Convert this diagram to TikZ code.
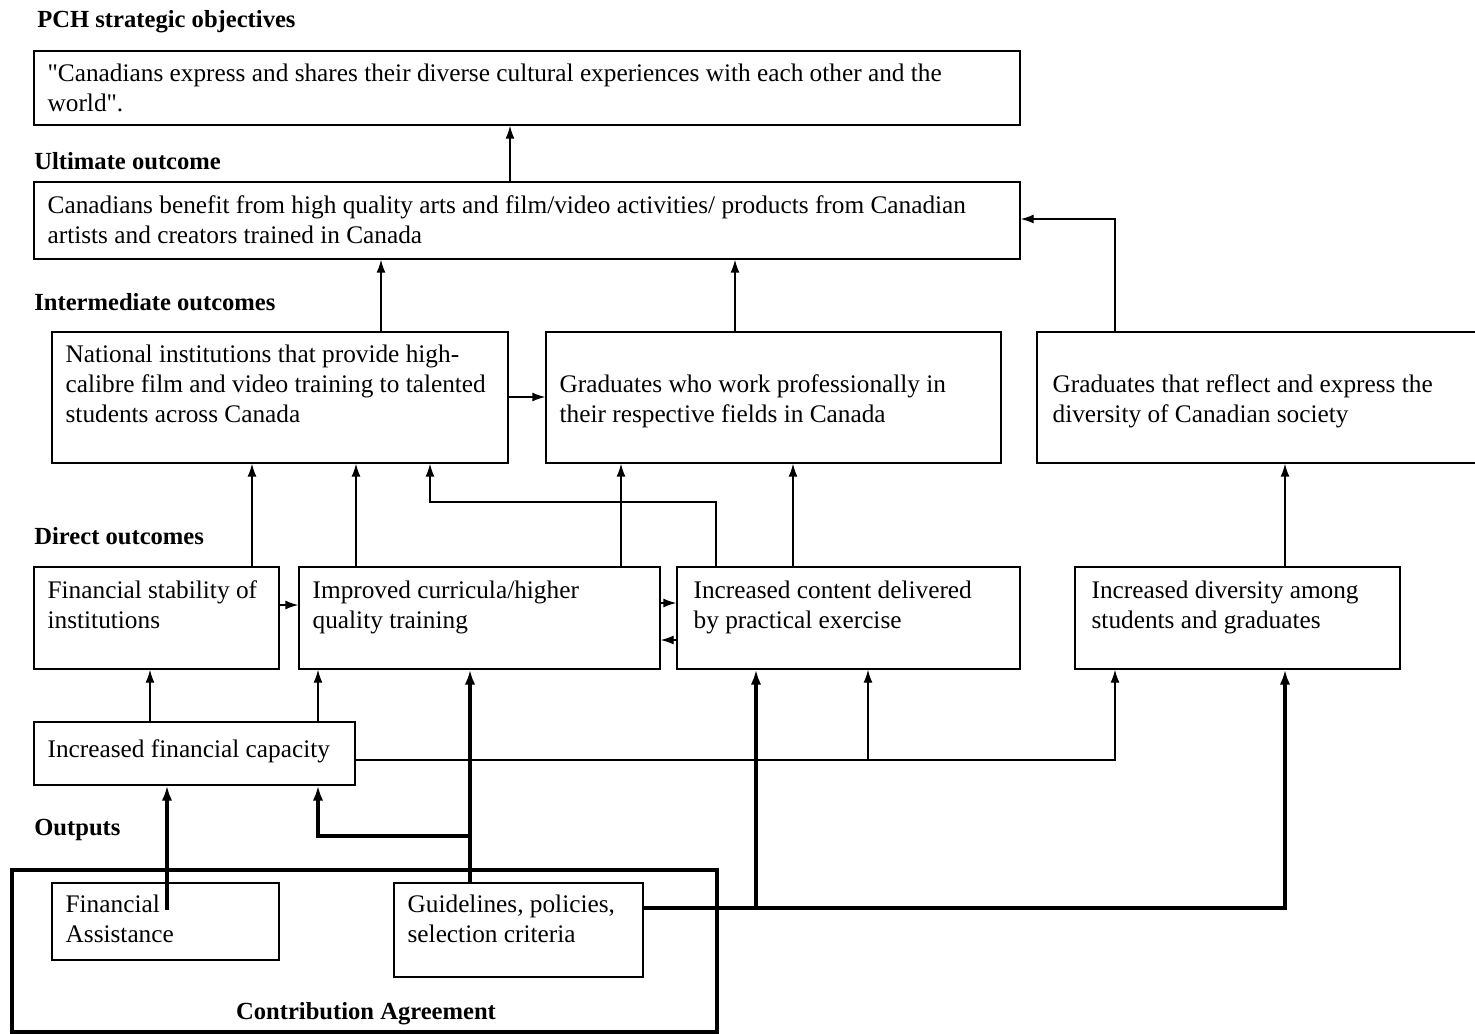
\documentclass[tikz,border=0pt]{standalone}
\usepackage{fontspec}
\setmainfont{Liberation Serif}[Ligatures=TeXOff]
\usetikzlibrary{arrows.meta,fit}
\tikzstyle{logicModel} = [x = 0.02cm, y = -0.02cm]
\tikzstyle{boxStyle} = [draw, line width=0.8pt, inner sep=0pt]
\tikzstyle{boxText} = [font=\fontsize{14.4}{17}\selectfont, align=left, anchor=north west, inner sep=0pt]
\tikzstyle{headText} = [font=\fontsize{14}{17}\selectfont\bfseries, anchor=base west, inner sep=0pt]
\tikzstyle{link} = [line width=0.8pt, -{Latex[length=2.6mm,width=1.8mm]}]
\tikzstyle{thickLink} = [line width=2.2pt, -{Latex[length=3mm,width=2.1mm]}]
\tikzstyle{agreementStyle} = [draw, line width=2.8pt, inner sep=0pt]
% box from corner (#2,#3) to corner (#4,#5), text shifted by (#6,#7)
\newcommand{\logicBox}[8]{
  \node [boxStyle, fit={(#2,#3) (#4,#5)}] (#1) {};
  \node [boxText] (#1Text) at ([shift={(#6,#7)}]#1.north west) {\strut#8};
}

\begin{document}
\begin{tikzpicture}[logicModel]
  \useasboundingbox [fill=white] (0,0) rectangle (1475,1034);

  % headings
  \node [headText] (pchHead) at (37,28) {PCH strategic objectives};
  \node [headText] (ultimateHead) at (34,170) {Ultimate outcome};
  \node [headText] (intermediateHead) at (34,310) {Intermediate outcomes};
  \node [headText] (directHead) at (34,544) {Direct outcomes};
  \node [headText] (outputsHead) at (34,835) {Outputs};

  % boxes
  \logicBox{objective}{34}{51}{1020}{125}{14}{10}{"Canadians express and shares their diverse cultural experiences with each other and the\\world".}
  \logicBox{ultimate}{34}{182}{1020}{259}{14}{11}{Canadians benefit from high quality arts and film/video activities/ products from Canadian\\artists and creators trained in Canada}
  \logicBox{national}{52}{332}{508}{463}{14}{10}{National institutions that provide high-\\calibre film and video training to talented\\students across Canada}
  \logicBox{graduatesWork}{546}{332}{1001}{463}{14}{40}{Graduates who work professionally in\\their respective fields in Canada}
  \logicBox{graduatesDiv}{1037}{332}{1480}{463}{16}{40}{Graduates that reflect and express the\\diversity of Canadian society}
  \logicBox{stability}{34}{567}{279}{669}{14}{11}{Financial stability of\\institutions}
  \logicBox{curricula}{299}{567}{660}{669}{14}{11}{Improved curricula/higher\\quality training}
  \logicBox{content}{677}{567}{1020}{669}{17}{11}{Increased content delivered\\by practical exercise}
  \logicBox{diversity}{1075}{567}{1400}{669}{17}{11}{Increased diversity among\\students and graduates}
  \logicBox{capacity}{34}{722}{355}{785}{14}{15}{Increased financial capacity}
  \node [agreementStyle, fit={(12,870) (717,1032)}] (agreement) {};
  \node [headText, anchor=base] (agreementText) at (366,1019) {Contribution Agreement};
  \logicBox{assistance}{52}{883}{279}{960}{14}{9}{Financial\\Assistance}
  \logicBox{guidelines}{394}{883}{643}{977}{14}{9}{Guidelines, policies,\\selection criteria}

  % thin connectors
  \draw [link] (ultimate.north -| 510,0) -- (objective.south -| 510,0);
  \draw [link] (national.north -| 381,0) -- (ultimate.south -| 381,0);
  \draw [link] (graduatesWork.north -| 735,0) -- (ultimate.south -| 735,0);
  \draw [link] (graduatesDiv.north -| 1115,0) |- (ultimate.east |- 0,219);
  \draw [link] (national.east |- 0,397) -- (graduatesWork.west |- 0,397);
  \draw [link] (stability.north -| 252,0) -- (national.south -| 252,0);
  \draw [link] (curricula.north -| 356,0) -- (national.south -| 356,0);
  \draw [link] (content.north -| 716,0) |- (430,502) -- (national.south -| 430,0);
  \draw [link] (curricula.north -| 621,0) -- (graduatesWork.south -| 621,0);
  \draw [link] (content.north -| 793,0) -- (graduatesWork.south -| 793,0);
  \draw [link] (diversity.north -| 1285,0) -- (graduatesDiv.south -| 1285,0);
  \draw [link] (stability.east |- 0,605) -- (curricula.west |- 0,605);
  \draw [link] (curricula.east |- 0,603) -- (content.west |- 0,603);
  \draw [link] (content.west |- 0,640) -- (curricula.east |- 0,640);
  \draw [link] (capacity.north -| 150,0) -- (stability.south -| 150,0);
  \draw [link] (capacity.north -| 318,0) -- (curricula.south -| 318,0);
  \coordinate (capacitySplit) at (868,760);
  \draw [link] (capacity.east |- 0,760) -| (diversity.south -| 1115,0);
  \draw [link] (capacitySplit) -- (content.south -| 868,0);

  % thick connectors
  \coordinate (assistStart) at (167,910);
  \coordinate (guidelinesSplit) at (470,836);
  \coordinate (guidelinesRight) at (756,908);
  \draw [thickLink] (assistStart) -- (capacity.south -| 167,0);
  \draw [thickLink] (guidelines.north -| 470,0) -- (curricula.south -| 470,0);
  \draw [thickLink] (guidelinesSplit) -| (capacity.south -| 318,0);
  \draw [thickLink] (guidelines.east |- 0,908) -| (diversity.south -| 1285,0);
  \draw [thickLink] (guidelinesRight) -- (content.south -| 756,0);
\end{tikzpicture}
\end{document}
